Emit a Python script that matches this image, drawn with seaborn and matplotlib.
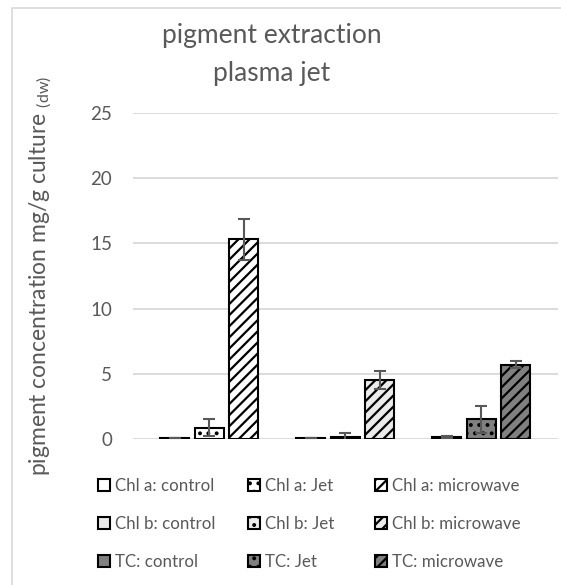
import matplotlib
matplotlib.use("Agg")
import matplotlib.pyplot as plt
from matplotlib.patches import Patch, Rectangle
import numpy as np
import pandas as pd
import seaborn as sns

# ---- data -------------------------------------------------------------
pigments = ["Chl a", "Chl b", "TC"]
treatments = ["control", "Jet", "microwave"]

chl_a_mean = [0.08, 0.85, 15.3]
chl_a_err = [0.02, 0.65, 1.6]
chl_b_mean = [0.08, 0.15, 4.5]
chl_b_err = [0.02, 0.30, 0.7]
tc_mean = [0.15, 1.5, 5.7]
tc_err = [0.08, 1.05, 0.27]

y_ticks = [0, 5, 10, 15, 20, 25]

# ---- styling per pigment / treatment ------------------------------------
pigment_fill = {"Chl a": "#ffffff", "Chl b": "#ebebeb", "TC": "#808080"}
treatment_hatch = {"control": "", "Jet": "..", "microwave": "///"}

means = [chl_a_mean, chl_b_mean, tc_mean]
errs = [chl_a_err, chl_b_err, tc_err]
df = pd.DataFrame(
    [
        {"pigment": p, "treatment": t, "value": means[i][j], "err": errs[i][j]}
        for i, p in enumerate(pigments)
        for j, t in enumerate(treatments)
    ]
)

sns.set_theme(style="white")
font = "Lato"
plt.rcParams["font.family"] = [font, "DejaVu Sans"]
plt.rcParams["mathtext.fontset"] = "custom"
plt.rcParams["mathtext.rm"] = font
plt.rcParams["hatch.linewidth"] = 1.6

text_col = "#595959"
grid_col = "#d9d9d9"

fig = plt.figure(figsize=(5.61, 5.85), dpi=100)
W, H = 561.0, 585.0
ax = fig.add_axes([133 / W, (H - 439) / H, (558 - 133) / W, (439 - 113) / H])

sns.barplot(
    data=df,
    x="pigment",
    y="value",
    hue="treatment",
    order=pigments,
    hue_order=treatments,
    errorbar=None,
    width=0.761,
    gap=0.16,
    palette=["#ffffff"] * 3,
    edgecolor="black",
    linewidth=1.5,
    legend=False,
    ax=ax,
)

# Recolour each bar by pigment and pattern it by treatment, then add error bars
for container, t in zip(ax.containers, treatments):
    for patch, p in zip(container.patches, pigments):
        patch.set_facecolor(pigment_fill[p])
        patch.set_hatch(treatment_hatch[t])
        patch.set_edgecolor("black")
        row = df[(df.pigment == p) & (df.treatment == t)].iloc[0]
        xc = patch.get_x() + patch.get_width() / 2
        ax.errorbar(
            xc, row.value, yerr=row.err, fmt="none", ecolor=text_col,
            elinewidth=1.5, capsize=4, capthick=1.5, zorder=5,
        )

ax.set_xlim(-0.559, 2.566)
ax.set_ylim(0, 25)
ax.set_yticks(y_ticks)
ax.set_yticklabels([str(v) for v in y_ticks])
ax.set_xticks([])
ax.set_xlabel("")
ax.set_ylabel("")
ax.yaxis.grid(True, color=grid_col, linewidth=1.3)
ax.set_axisbelow(True)
for s in ax.spines.values():
    s.set_visible(False)
ax.tick_params(axis="y", length=0, pad=15, labelsize=13.5, labelcolor=text_col)

# y-axis title with subscript unit
fig.text(
    41 / W, (H - 276) / H,
    r"pigment concentration mg/g culture $_\mathregular{(dw)}$",
    rotation=90, ha="center", va="center", fontsize=16.5, color=text_col,
)

# chart title
fig.text(272 / W, (H - 36) / H, "pigment extraction", ha="center", va="center",
         fontsize=19, color=text_col)
fig.text(272 / W, (H - 74) / H, "plasma jet", ha="center", va="center",
         fontsize=19, color=text_col)

# legend: one column per treatment
col_x = [98, 248, 375]
for t, cx in zip(treatments, col_x):
    handles = [
        Patch(facecolor=pigment_fill[p], edgecolor="black", linewidth=1.5,
              hatch=treatment_hatch[t], label=f"{p}: {t}")
        for p in pigments
    ]
    fig.legend(
        handles=handles, loc="upper left",
        bbox_to_anchor=(cx / W, (H - 478) / H),
        frameon=False, borderpad=0, borderaxespad=0,
        handlelength=0.7, handleheight=0.7, handletextpad=0.3,
        labelspacing=1.3, fontsize=12.2, labelcolor=text_col,
    )

# chart border
fig.add_artist(Rectangle((12 / W, -0.1), 1.2, (H - 8) / H + 0.1,
                         transform=fig.transFigure, fill=False,
                         edgecolor=grid_col, linewidth=1.2))

fig.savefig("out.png", dpi=100)
